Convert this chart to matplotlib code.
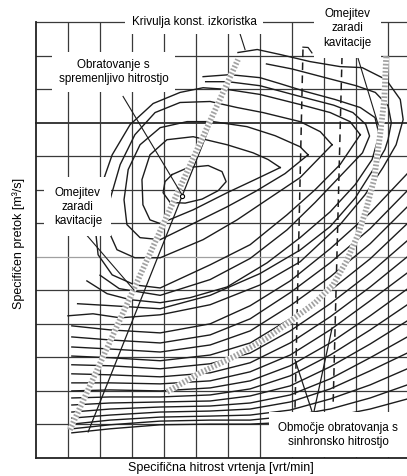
import matplotlib.pyplot as plt

plt.rcParams['font.family'] = ['Liberation Sans', 'DejaVu Sans']

# ---------------------------------------------------------
# Data (grid units: one unit per grid cell)
# ---------------------------------------------------------
grid_x = list(range(1, 12))
grid_y = list(range(1, 14))

# efficiency contours around the optimum (inner -> outer)
k0_x = [4.25, 4.75, 5.38, 5.81, 5.94, 5.69, 5.19, 4.66, 4.19, 3.97, 4.03, 4.25]
k0_y = [8.45, 8.66, 8.72, 8.54, 8.24, 7.97, 7.72, 7.6, 7.62, 7.91, 8.24, 8.45]
k1_x = [7.63, 7.25, 6.78, 5.97, 4.91, 4.09, 3.56, 3.31, 3.34, 3.56, 3.88, 4.91, 5.97, 6.84, 7.63]
k1_y = [8.66, 8.90, 9.10, 9.34, 9.58, 9.49, 9.04, 8.30, 7.55, 7.10, 6.99, 7.40, 7.91, 8.30, 8.66]
k2_x = [8.5, 8.25, 7.47, 6.59, 5.53, 4.72, 3.88, 3.25, 2.88, 2.75, 2.84, 3.25, 3.88, 4.91, 5.97, 6.84, 7.78, 8.5]
k2_y = [9.04, 9.28, 9.61, 9.88, 10.03, 10.03, 9.85, 9.34, 8.60, 7.70, 6.96, 6.57, 6.51, 6.99, 7.49, 7.94, 8.48, 9.04]
k3_x = [9.25, 8.88, 8.25, 7.09, 6.28, 5.44, 4.5, 3.72, 3.09, 2.63, 2.31, 2.25, 2.53, 3.09, 3.88, 5.22, 6.28, 7.31, 8.25, 9.25]
k3_y = [9.34, 9.73, 10.03, 10.30, 10.45, 10.63, 10.60, 10.30, 9.64, 8.75, 7.70, 6.81, 6.21, 5.97, 5.97, 6.51, 7.10, 7.76, 8.36, 9.34]
k4_x = [10.13, 9.81, 9.19, 8.25, 7.0, 5.97, 5.22, 4.5, 3.66, 2.94, 2.38, 2.0, 1.84, 1.94, 2.38, 3.09, 3.88, 5.44, 6.69, 7.84, 8.72, 9.5, 10.13]
k4_y = [9.64, 10.03, 10.30, 10.54, 10.84, 10.99, 11.04, 10.90, 10.57, 9.94, 9.04, 8.0, 6.96, 6.06, 5.46, 5.16, 5.07, 5.76, 6.36, 7.25, 8.0, 8.75, 9.64]
k4b_x = [5.3, 6.0, 7.0, 8.25, 9.3, 9.9, 10.3, 10.42, 10.2, 9.5, 8.72, 7.84, 6.69, 5.44, 3.88, 2.6, 2.0]
k4b_y = [11.22, 11.22, 11.1, 10.78, 10.52, 10.3, 9.95, 9.6, 9.1, 8.4, 7.62, 6.8, 5.95, 5.32, 4.85, 5.05, 5.45]
k5_x = [5.22, 6.06, 7.0, 7.63, 8.41, 9.34, 10.13, 10.59, 10.72, 10.5, 9.97, 9.19, 8.25, 7.22, 5.97, 4.81, 3.88, 2.94, 2.22, 1.59]
k5_y = [11.37, 11.43, 11.34, 11.16, 10.93, 10.69, 10.45, 10.15, 9.64, 8.90, 8.15, 7.34, 6.57, 5.82, 5.10, 4.78, 4.63, 4.72, 4.90, 5.28]
k5b_x = [7.2, 8.0, 9.0, 10.0, 10.6, 11.0, 11.1, 11.0, 10.9, 10.5, 9.97, 9.19, 8.25, 7.0, 5.44, 3.88, 2.2, 1.3]
k5b_y = [11.75, 11.6, 11.35, 11.1, 10.9, 10.5, 10.0, 9.5, 9.2, 8.55, 7.75, 6.9, 6.2, 5.5, 4.85, 4.45, 4.55, 4.6]
k6_x = [6.31, 6.91, 7.63, 8.56, 9.5, 10.19, 10.94, 11.38, 11.47, 11.25, 10.84, 10.28, 9.5, 8.25, 7.0, 5.44, 3.88, 2.63, 1.78, 1.0]
k6_y = [12.09, 12.18, 12.03, 11.82, 11.67, 11.64, 11.28, 10.69, 10.09, 9.34, 8.66, 7.85, 6.96, 5.85, 5.16, 4.57, 4.27, 4.18, 4.30, 4.24]

# outer open contours (fan from bottom left, bending up to the right)
fan_x = [1.12, 2.31, 3.88, 5.44, 6.69, 7.94, 9.19, 10.44, 11.6]
fan_y = [
    [3.94, 3.82, 3.73, 4.00, 4.54, 5.28, 6.24, 7.31, 8.48],
    [3.61, 3.52, 3.43, 3.67, 4.15, 4.93, 5.82, 6.84, 7.97],
    [3.31, 3.25, 3.16, 3.37, 3.79, 4.54, 5.40, 6.39, 7.49],
    [3.04, 2.99, 2.90, 3.07, 3.43, 4.15, 4.99, 5.94, 6.99],
    [2.78, 2.75, 2.66, 2.81, 3.13, 3.79, 4.60, 5.52, 6.48],
    [2.51, 2.48, 2.42, 2.54, 2.84, 3.43, 4.21, 5.10, 6.00],
    [2.24, 2.24, 2.21, 2.30, 2.57, 3.07, 3.82, 4.69, 5.52],
    [2.00, 2.03, 2.00, 2.09, 2.30, 2.75, 3.43, 4.24, 5.04],
    [1.79, 1.82, 1.82, 1.88, 2.06, 2.45, 3.07, 3.82, 4.57],
    [1.58, 1.64, 1.67, 1.70, 1.85, 2.15, 2.72, 3.40, 4.09],
    [1.37, 1.46, 1.52, 1.55, 1.64, 1.88, 2.36, 2.99, 3.61],
    [1.19, 1.28, 1.37, 1.40, 1.46, 1.67, 2.06, 2.60, 3.13],
    [1.01, 1.13, 1.22, 1.25, 1.28, 1.43, 1.76, 2.18, 2.66],
    [0.87, 0.99, 1.10, 1.13, 1.13, 1.25, 1.46, 1.79, 2.18],
    [0.75, 0.87, 0.99, 1.01, 1.01, 1.07, 1.22, 1.46, 1.76],
]

# cavitation limits (hatched) and variable speed line
cav_left_x = [1.06, 6.31]
cav_left_y = [0.84, 11.88]
cav_right_x = [10.94, 10.88, 10.75, 10.56, 10.31, 10.06, 9.69, 9.28, 8.72, 8.09, 7.22, 6.16, 5.13, 4.09]
cav_right_y = [11.97, 10.69, 9.64, 8.30, 7.40, 6.66, 5.85, 5.16, 4.63, 4.18, 3.58, 3.01, 2.54, 1.97]
var_speed_x = [1.63, 6.25]
var_speed_y = [0.78, 11.85]

# synchronous speed range (dashed) and its zig-zag
sync1_x = [8.34, 8.09]
sync1_y = [12.18, 1.43]
sync2_x = [9.56, 9.28]
sync2_y = [11.97, 1.52]
zig_x = [8.09, 8.66, 9.25]
zig_y = [2.93, 1.28, 3.88]
hook_x = [8.34, 8.5, 8.62]
hook_y = [12.25, 12.24, 12.08]

best_x, best_y = 4.56, 7.8

# ---------------------------------------------------------
# Plot
# ---------------------------------------------------------
fig = plt.figure(figsize=(4.07, 4.76), dpi=100)
ax = fig.add_axes([36 / 407, 18 / 476, 371 / 407, 436 / 476])
ax.set_xlim(0, 11.59)
ax.set_ylim(0, 13.0)
ax.set_xticks([])
ax.set_yticks([])
for s in ax.spines.values():
    s.set_visible(False)

grid_col = "#3a3a3a"
for gx in grid_x:
    ax.axvline(gx, color=grid_col, lw=0.9, zorder=1)
for gy in grid_y:
    col = "#a0a0a0" if gy == 6 else grid_col
    lw = 1.4 if gy == 10 else 0.9
    ax.axhline(gy, color=col, lw=lw, zorder=1, clip_on=False)
ax.axvline(0, color="#222222", lw=1.3, zorder=1, clip_on=False)
ax.axhline(0, color="#222222", lw=1.3, zorder=1, clip_on=False)

line_col = "#1c1c1c"
for cx, cy in [(k0_x, k0_y), (k1_x, k1_y), (k2_x, k2_y), (k3_x, k3_y), (k4_x, k4_y),
               (k4b_x, k4b_y), (k5_x, k5_y), (k5b_x, k5b_y), (k6_x, k6_y)]:
    ax.plot(cx, cy, color=line_col, lw=1.0, zorder=3, solid_joinstyle="round")
for fy in fan_y:
    ax.plot(fan_x, fy, color=line_col, lw=1.0, zorder=3, solid_joinstyle="round")

ax.plot(var_speed_x, var_speed_y, color=line_col, lw=0.9, zorder=3)

# hatched cavitation limits
for hx, hy in [(cav_left_x, cav_left_y), (cav_right_x, cav_right_y)]:
    ax.plot(hx, hy, color="white", lw=4.2, zorder=4, solid_capstyle="butt")
    ax.plot(hx, hy, color="#a2a2a2", lw=4.2, ls=(0, (0.3, 0.32)),
            dash_capstyle="butt", zorder=5)

ax.plot(sync1_x, sync1_y, color=line_col, lw=1.1, ls=(0, (5, 3.5)), zorder=3)
ax.plot(sync2_x, sync2_y, color=line_col, lw=1.1, ls=(0, (5, 3.5)), zorder=3)
ax.plot(zig_x, zig_y, color=line_col, lw=0.9, zorder=3)
ax.plot(hook_x, hook_y, color=line_col, lw=0.9, zorder=3, clip_on=False)

ax.plot(best_x, best_y, marker="o", ms=3, mfc="white", mec="black", mew=0.8, zorder=6)

# pointer lines
ax.plot([6.38, 6.53], [12.63, 12.18], color=line_col, lw=0.8, zorder=6, clip_on=False)
ax.plot([2.72, 4.56], [10.78, 7.85], color=line_col, lw=0.8, zorder=6)
ax.plot([1.38, 3.06], [6.87, 5.01], color=line_col, lw=0.8, zorder=6)
ax.plot([9.91, 10.69], [12.39, 9.94], color=line_col, lw=0.8, zorder=6)

# labels
fs = 8.4
box = dict(facecolor="white", edgecolor="none", boxstyle="square,pad=0.55")
ax.text(4.94, 13.0, "Krivulja konst. izkoristka", fontsize=fs, ha="center", va="center",
        bbox=box, zorder=10, clip_on=False)
ax.text(2.42, 11.51, "Obratovanje s\nspremenljivo hitrostjo", fontsize=fs, ha="center",
        va="center", linespacing=1.25, bbox=box, zorder=10)
ax.text(1.31, 7.49, "Omejitev\nzaradi\nkavitacije", fontsize=fs, ha="center", va="center",
        linespacing=1.25, bbox=dict(facecolor="white", edgecolor="none",
                                    boxstyle="square,pad=0.8"), zorder=10)
ax.text(9.72, 12.81, "Omejitev\nzaradi\nkavitacije", fontsize=fs, ha="center", va="center",
        linespacing=1.25, bbox=dict(facecolor="white", edgecolor="none",
                                    boxstyle="square,pad=0.8"), zorder=10, clip_on=False)
ax.text(9.44, 0.69, "Območje obratovanja s\nsinhronsko hitrostjo", fontsize=fs, ha="center",
        va="center", linespacing=1.25, bbox=dict(facecolor="white", edgecolor="none",
                                                 boxstyle="square,pad=0.8"), zorder=10)

fig.text(221 / 407, 1 - 468 / 476, "Specifična hitrost vrtenja [vrt/min]", fontsize=9,
         ha="center", va="center")
fig.text(19 / 407, 0.488, "Specifičen pretok [m³/s]", fontsize=9, rotation=90,
         ha="center", va="center")

fig.savefig("out.png", dpi=100)
